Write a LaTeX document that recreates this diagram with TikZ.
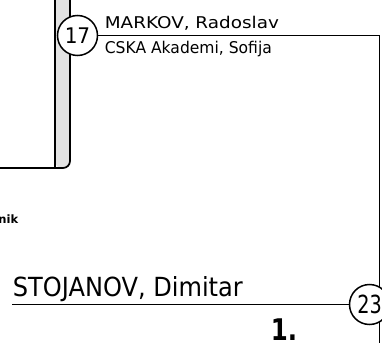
\documentclass[tikz,border=0pt]{standalone}
\usepackage{fontspec}
\setmainfont{DejaVu Sans}
\newfontfamily\placefont{DejaVu Sans Bold}[FakeStretch=0.82]
% text stretched to the width and height it has in the bracket
\newcommand\fitname[3]{\resizebox{#1}{#2}{#3}}
\usetikzlibrary{backgrounds}

\begin{document}
\begin{tikzpicture}[x=1pt, y=-1pt, line width=1.7pt,
    seed/.style={circle, draw, line width=1.5pt, fill=white, minimum size=40pt, inner sep=0pt},
    player/.style={anchor=base west, inner sep=0pt}]
  \useasboundingbox (0,0) rectangle (382,342);
  \clip (0,0) rectangle (382,342);
  % previous box with shaded strip
  \fill[black!11, rounded corners=7pt] (55,-5) -- (55,168) -- (70,168) -- (70,-5) -- cycle;
  \draw[rounded corners=7pt] (-5,168) -- (70,168) -- (70,-5);
  \draw (55,-5) -- (55,168);
  \node[anchor=base east, inner sep=0pt, font=\fontsize{11.5}{11.5}\selectfont\bfseries] (coach) at (19,223.5) {nik};
  % seeds
  \node[seed] (s17) at (77.5,35.5) {\fitname{25.5pt}{15.7pt}{17}};
  \node[seed] (s23) at (369.5,304.5) {\fitname{24.5pt}{18.5pt}{23}};
  \coordinate (turn) at (379,35.5);
  \coordinate (bot) at (379,345);
  \coordinate (start) at (12,304.5);
  \begin{scope}[on background layer]
    \draw (s17) -- (turn) -- (bot);
    \draw (start) -- (s23);
  \end{scope}
  \node[player] (markov) at (104,28.3) {\fitname{174pt}{12.3pt}{MARKOV, Radoslav}};
  \node[player] (cska) at (104,53.3) {\fitname{167pt}{12.3pt}{CSKA Akademi, Sofija}};
  \node[player] (stoj) at (12,296) {\fitname{230pt}{20pt}{STOJANOV, Dimitar}};
  \node[anchor=base west, inner sep=0pt, font=\placefont\fontsize{29.8}{30}\selectfont] (place) at (270,340) {1.};
\end{tikzpicture}
\end{document}
